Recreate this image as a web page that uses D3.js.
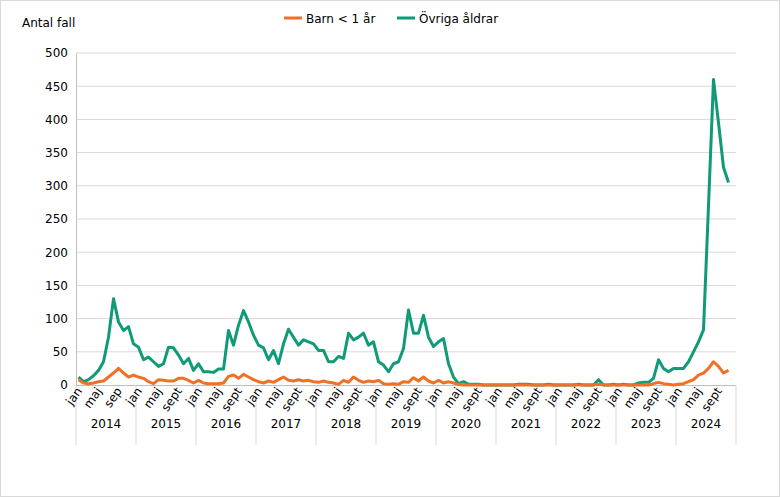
<!DOCTYPE html>
<html><head><meta charset="utf-8">
<script src="https://cdn.jsdelivr.net/npm/d3@7"></script>
<style>body{margin:0;background:#fff}text{font-family:"DejaVu Sans",Verdana,sans-serif;fill:#000}</style>
</head><body><svg id="chart" width="780" height="497"></svg>
<script>
// monthly cases, jan 2014 - nov 2024 (dec 2024 missing)
const years = [2014,2015,2016,2017,2018,2019,2020,2021,2022,2023,2024];
const monthLabels = ["jan","","","","maj","","","","sept","","",""];
const barn = [
  8,3,2,3,5,6,12,18,25,18,12,15,
  12,10,5,2,8,7,6,6,10,10,7,3,
  7,3,2,2,2,3,13,15,10,16,12,8,
  5,3,6,4,8,12,7,6,8,6,7,5,
  4,6,4,3,1,7,4,12,7,4,6,5,
  7,2,1,2,1,5,4,11,6,12,6,3,
  7,3,5,3,1,0,0,0,0,0,0,0,
  0,0,0,0,0,0,0,0,0,0,0,0,
  0,0,0,0,0,0,0,0,1,0,0,0,
  0,0,0,0,0,0,0,2,4,2,1,0,
  1,2,5,8,15,18,25,35,28,18,22,null];
const ovriga = [
  12,5,8,14,22,35,72,130,95,82,88,62,
  57,38,42,35,28,32,57,56,45,32,40,22,
  32,20,20,19,24,24,82,60,90,112,95,75,
  60,56,38,52,32,62,84,72,60,68,65,62,
  52,52,35,35,43,40,78,68,72,78,60,65,
  35,30,20,32,35,55,113,78,78,105,72,58,
  65,70,32,12,2,5,1,1,1,0,0,0,
  0,0,0,0,1,1,1,0,0,0,1,0,
  0,0,0,0,1,0,0,0,8,0,0,1,
  0,1,0,0,3,4,4,10,38,25,20,25,
  25,25,35,50,65,83,270,460,395,328,305,null];
const yTicks = [0,50,100,150,200,250,300,350,400,450,500];

const svg = d3.select("#chart");
svg.append("rect").attr("x",0.5).attr("y",0.5).attr("width",779).attr("height",496)
  .attr("fill","none").attr("stroke","#d9d9d9");

const mLeft = 76, mRight = 736, mTop = 53, mBottom = 385;
const n = years.length*12;
const x = d3.scaleBand().domain(d3.range(n)).range([mLeft,mRight]);
const y = d3.scaleLinear().domain([0,500]).range([mBottom,mTop]);

// grid
svg.append("g").selectAll("line").data(yTicks.slice(1)).join("line")
  .attr("x1",mLeft).attr("x2",mRight).attr("y1",d=>y(d)).attr("y2",d=>y(d))
  .attr("stroke","#d9d9d9").attr("stroke-width",1);

const yAxis = svg.append("g").attr("transform",`translate(${mLeft},0)`)
  .call(d3.axisLeft(y).tickValues(yTicks).tickSize(0).tickPadding(8));
yAxis.select(".domain").attr("stroke","#bfbfbf");
yAxis.selectAll("text").style("font-size","12px").style("font-family","DejaVu Sans");

svg.append("text").attr("x",22).attr("y",27).style("font-size","12px").text("Antal fall");

// x axis
svg.append("line").attr("x1",mLeft).attr("x2",mRight).attr("y1",mBottom+0.5).attr("y2",mBottom+0.5).attr("stroke","#bfbfbf");
svg.append("g").selectAll("line").data(d3.range(years.length+1)).join("line")
  .attr("x1",i=>mLeft+i*12*x.step()).attr("x2",i=>mLeft+i*12*x.step())
  .attr("y1",mBottom).attr("y2",mBottom+60).attr("stroke","#d9d9d9");
svg.append("g").selectAll("text").data(d3.range(n).filter(i=>monthLabels[i%12])).join("text")
  .attr("transform",i=>`translate(${x(i)+x.bandwidth()/2+4},${mBottom+6}) rotate(-55)`)
  .attr("text-anchor","end").style("font-size","12px")
  .text(i=> i===8 ? "sep" : monthLabels[i%12]);
svg.append("g").selectAll("text").data(years).join("text")
  .attr("x",(d,i)=>mLeft+(i+0.5)*12*x.step()).attr("y",mBottom+43)
  .attr("text-anchor","middle").style("font-size","12px").text(d=>d);

// lines
const line = d3.line().defined(d=>d[1]!=null)
  .x(d=>x(d[0])+x.bandwidth()/2).y(d=>y(d[1]));
const series = [{name:"Barn < 1 år",vals:barn,color:"#f07125"},
                {name:"Övriga åldrar",vals:ovriga,color:"#0f9a78"}];
svg.append("g").selectAll("path").data(series.slice().reverse()).join("path")
  .attr("d",s=>line(s.vals.map((v,i)=>[i,v])))
  .attr("fill","none").attr("stroke",s=>s.color).attr("stroke-width",3).attr("stroke-linejoin","round");

// legend
const lg = svg.append("g").selectAll("g").data(series).join("g")
  .attr("transform",(d,i)=>`translate(${i?397:284},18)`);
lg.append("line").attr("x1",0).attr("x2",18).attr("stroke",d=>d.color).attr("stroke-width",3);
lg.append("text").attr("x",22).attr("y",4.5).style("font-size","12px").text(d=>d.name);
</script></body></html>
